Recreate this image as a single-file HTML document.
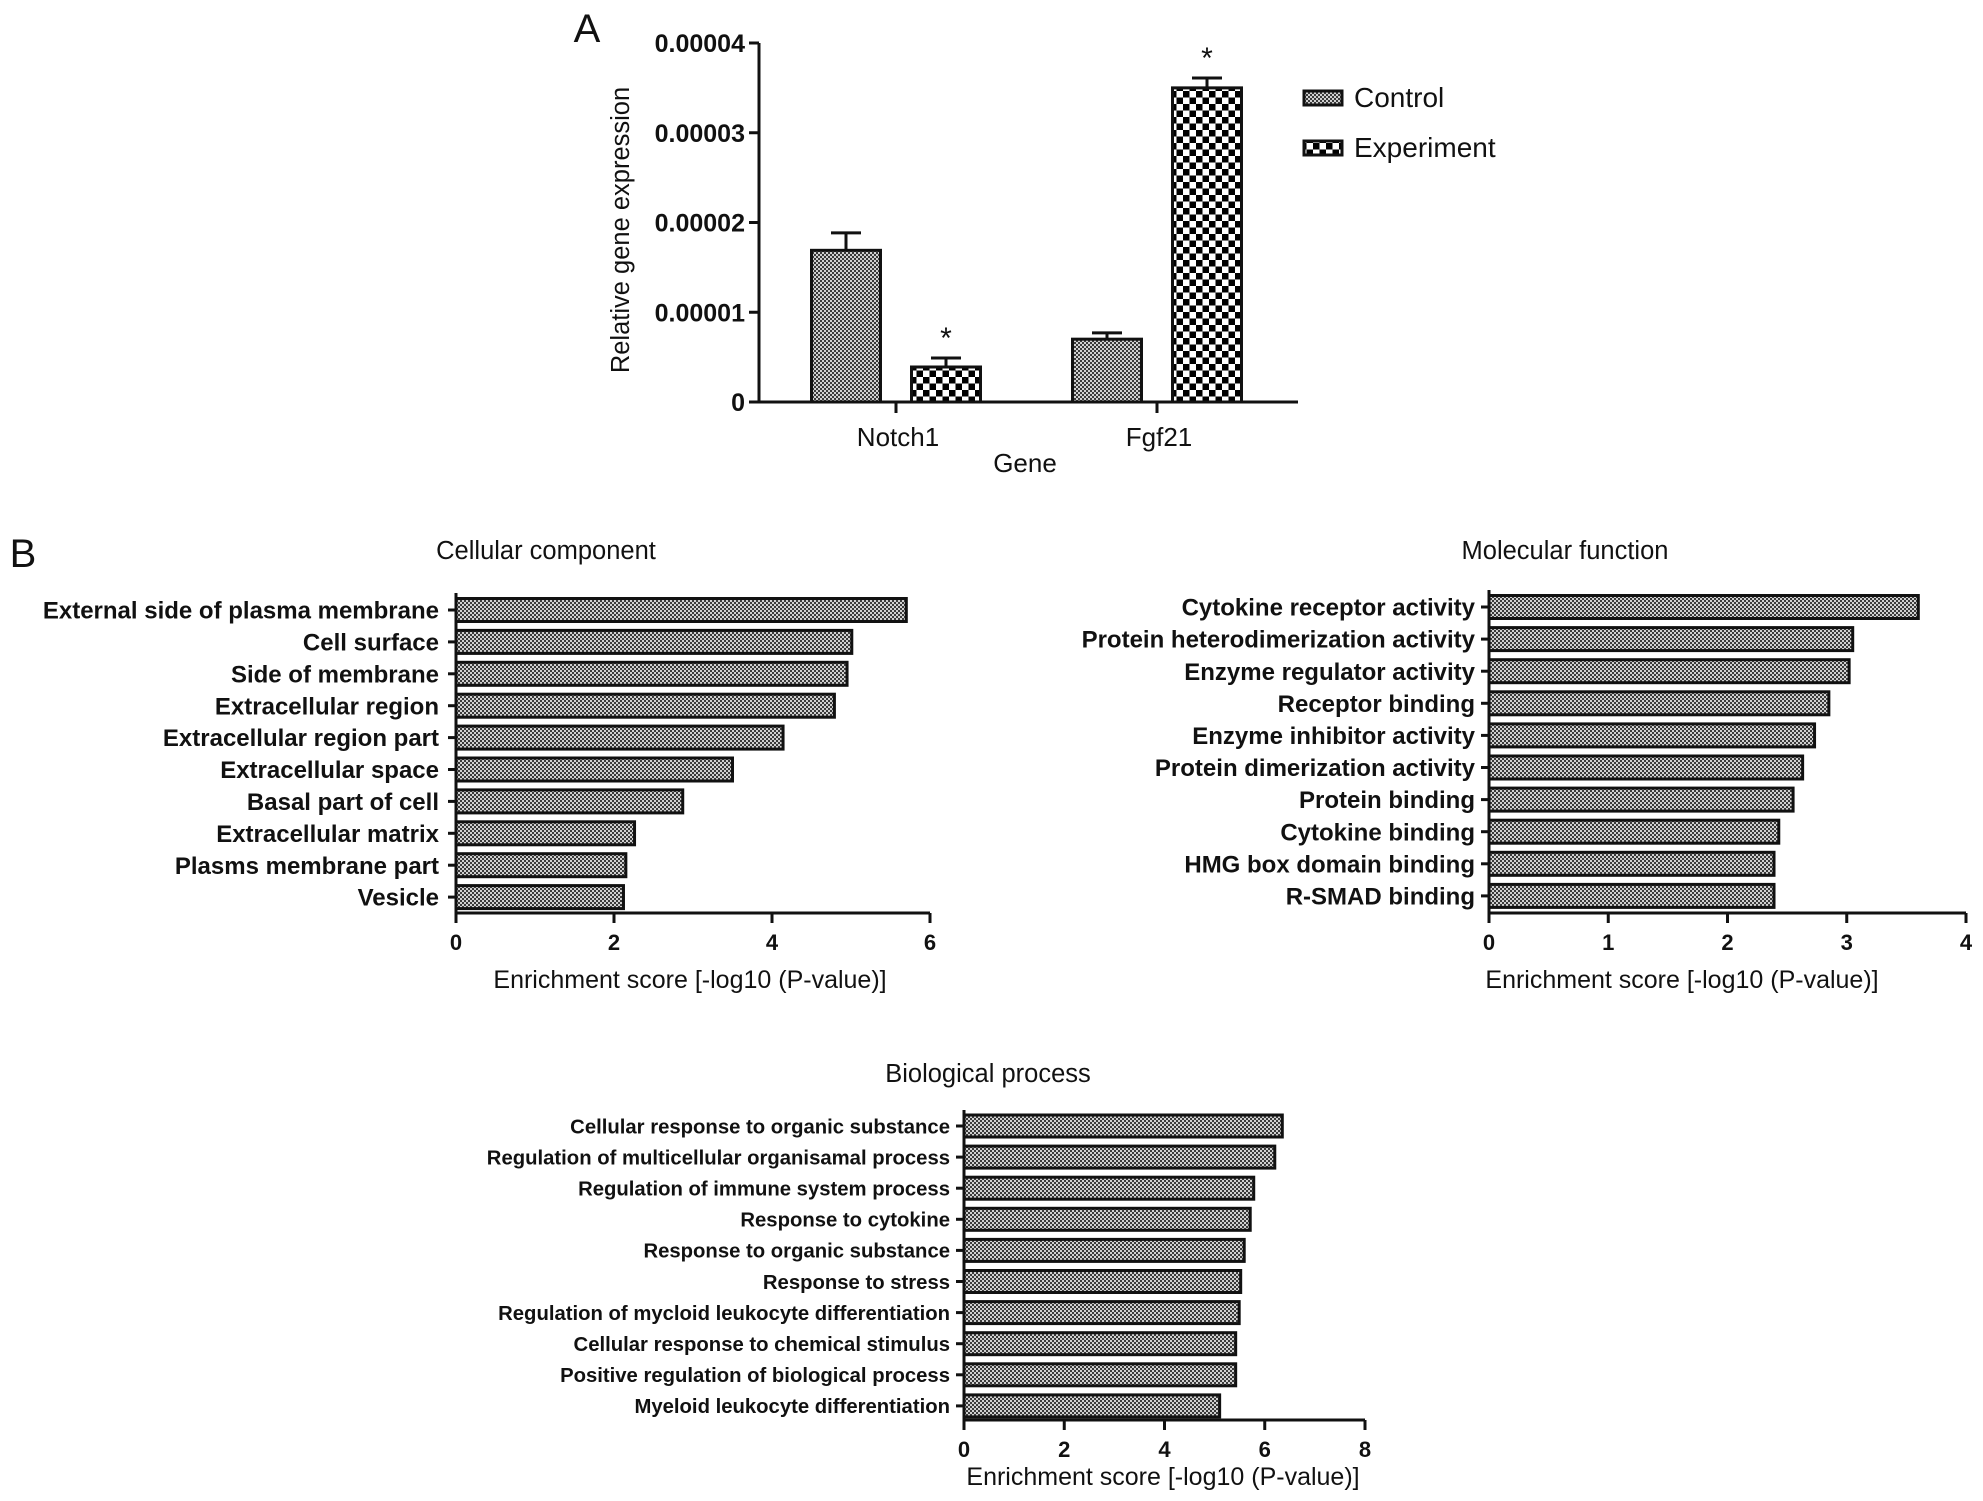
<!DOCTYPE html>
<html><head><meta charset="utf-8"><style>
html,body{margin:0;padding:0;background:#fff}
svg{display:block}
text{font-family:"Liberation Sans",Arial,sans-serif;fill:#111}
.b{font-weight:bold}
</style></head><body>
<svg id="fig" width="1983" height="1501" viewBox="0 0 1983 1501" xmlns="http://www.w3.org/2000/svg">
<defs>
<pattern id="fine" width="4" height="4" patternUnits="userSpaceOnUse"><rect width="4" height="4" fill="#d0d0d0"/><rect width="2" height="2" fill="#3a3a3a"/><rect x="2" y="2" width="2" height="2" fill="#3a3a3a"/></pattern>
<pattern id="check" width="13" height="13" patternUnits="userSpaceOnUse"><rect width="13" height="13" fill="#fff"/><rect width="6.5" height="6.5" fill="#000"/><rect x="6.5" y="6.5" width="6.5" height="6.5" fill="#000"/></pattern>
</defs>
<g id="pa"></g>
<g id="cc"></g>
<g id="mf"></g>
<g id="bp"></g>
</svg>
<script>
// Panel A data
const aGenes = ["Notch1", "Fgf21"];
const aControl = [1.69e-5, 0.70e-5];
const aControlErr = [0.195e-5, 0.07e-5];
const aExperiment = [0.39e-5, 3.50e-5];
const aExperimentErr = [0.10e-5, 0.11e-5];
const aTicks = [0, 0.00001, 0.00002, 0.00003, 0.00004];
const aTickLabels = ["0", "0.00001", "0.00002", "0.00003", "0.00004"];

// Cellular component
const ccCats = ["External side of plasma membrane","Cell surface","Side of membrane","Extracellular region","Extracellular region part","Extracellular space","Basal part of cell","Extracellular matrix","Plasms membrane part","Vesicle"];
const ccVals = [5.70, 5.01, 4.95, 4.79, 4.14, 3.50, 2.87, 2.26, 2.15, 2.12];
const ccTicks = [0, 2, 4, 6];
// Molecular function
const mfCats = ["Cytokine receptor activity","Protein heterodimerization activity","Enzyme regulator activity","Receptor binding","Enzyme inhibitor activity","Protein dimerization activity","Protein binding","Cytokine binding","HMG box domain binding","R-SMAD binding"];
const mfVals = [3.60, 3.05, 3.02, 2.85, 2.73, 2.63, 2.55, 2.43, 2.39, 2.39];
const mfTicks = [0, 1, 2, 3, 4];
// Biological process
const bpCats = ["Cellular response to organic substance","Regulation of multicellular organisamal process","Regulation of immune system process","Response to cytokine","Response to organic substance","Response to stress","Regulation of mycloid leukocyte differentiation","Cellular response to chemical stimulus","Positive regulation of biological process","Myeloid leukocyte differentiation"];
const bpVals = [6.35, 6.20, 5.78, 5.71, 5.59, 5.52, 5.49, 5.42, 5.42, 5.10];
const bpTicks = [0, 2, 4, 6, 8];

const NS = "http://www.w3.org/2000/svg";
function mk(parent, tag, attrs, txt) {
  const e = document.createElementNS(NS, tag);
  for (const k in attrs) e.setAttribute(k, attrs[k]);
  if (txt !== undefined) e.textContent = txt;
  parent.appendChild(e);
  return e;
}

// ---- Panel A ----
(function(){
  const g = document.getElementById('pa');
  const x0 = 759, x1 = 1298, y0 = 402, yTop = 43, vmax = 0.00004;
  const ys = v => y0 - v / vmax * (y0 - yTop);
  let t = mk(g,'text',{x:587,y:42,'font-size':40,'text-anchor':'middle'},'A');
  
  
  let l = mk(g,'line',{x1:x0,y1:yTop,x2:x0,y2:y0+1,stroke:'#111','stroke-width':3});
  
  
  l = mk(g,'line',{x1:x0-1,y1:y0,x2:x1,y2:y0,stroke:'#111','stroke-width':3});
  
  
  aTicks.forEach((v,i)=>{
    mk(g,'line',{x1:x0-10,y1:ys(v),x2:x0,y2:ys(v),stroke:'#111','stroke-width':3});
    const tl = mk(g,'text',{x:745,y:ys(v)+9,'font-size':25,'text-anchor':'end',class:'b'},aTickLabels[i]);
    
    
  });
  t = mk(g,'text',{x:0,y:0,'font-size':25.5,'text-anchor':'middle',fill:'#222',transform:'translate(629,230) rotate(-90)'},'Relative gene expression');
  
  
  const groupC = [896, 1157];
  const bw = 69, off = 50;
  aGenes.forEach((gn,i)=>{
    const cx = groupC[i];
    mk(g,'line',{x1:cx,y1:y0,x2:cx,y2:y0+11,stroke:'#111','stroke-width':3});
    const lab = mk(g,'text',{x:cx+2,y:446,'font-size':26,'text-anchor':'middle'},gn);
    
    
    [[aControl,aControlErr,'url(#fine)',-off,'control'],[aExperiment,aExperimentErr,'url(#check)',off,'experiment']].forEach(([vals,errs,fill,dx,nm])=>{
      const bx = cx + dx - bw/2, top = ys(vals[i]);
      const et = ys(vals[i]+errs[i]);
      mk(g,'line',{x1:cx+dx,y1:top,x2:cx+dx,y2:et,stroke:'#111','stroke-width':3});
      mk(g,'line',{x1:cx+dx-15,y1:et,x2:cx+dx+15,y2:et,stroke:'#111','stroke-width':3});
      const r = mk(g,'rect',{x:bx,y:top,width:bw,height:y0-top,fill:fill,stroke:'#111','stroke-width':3});
      
      
      if (nm==='experiment') {
        const s = mk(g,'text',{x:cx+dx,y:et-10,'font-size':30,'text-anchor':'middle'},'*');
        
        
      }
    });
  });
  t = mk(g,'text',{x:1025,y:472,'font-size':26,'text-anchor':'middle'},'Gene');
  
  
  [['Control','url(#fine)',98],['Experiment','url(#check)',148]].forEach(([nm,f,y])=>{
    const lg = mk(g,'g',{});
    
    
    mk(lg,'rect',{x:1304,y:y-7,width:38,height:14,fill:f,stroke:'#111','stroke-width':3});
    mk(lg,'text',{x:1354,y:y+9,'font-size':28},nm);
  });
})();

// ---- Horizontal bar charts ----
function hchart(id, cats, vals, ticks, o) {
  const g = document.getElementById(id);
  const xs = v => o.ax + v / ticks[ticks.length-1] * (o.axEnd - o.ax);
  let t = mk(g,'text',{x:o.titleX,y:o.titleY,'font-size':25.5,'text-anchor':'middle',fill:'#222'},o.title);
  
  
  mk(g,'line',{x1:o.ax,y1:o.top,x2:o.ax,y2:o.ay+1,stroke:'#111','stroke-width':3});
  mk(g,'line',{x1:o.ax-1,y1:o.ay,x2:o.axEnd,y2:o.ay,stroke:'#111','stroke-width':3});
  ticks.forEach(v=>{
    mk(g,'line',{x1:xs(v),y1:o.ay,x2:xs(v),y2:o.ay+10,stroke:'#111','stroke-width':3});
    const tl = mk(g,'text',{x:xs(v),y:o.ay+37,'font-size':22,'text-anchor':'middle',class:'b'},String(v));
    
    
  });
  cats.forEach((c,i)=>{
    const cy = o.y0 + i*o.step;
    mk(g,'line',{x1:o.ax-8,y1:cy,x2:o.ax,y2:cy,stroke:'#111','stroke-width':3});
    const lab = mk(g,'text',{x:o.labX,y:cy+o.fs*0.36,'font-size':o.fs,'text-anchor':'end',class:'b'},c);
    
    
    const r = mk(g,'rect',{x:o.ax,y:cy-o.bh/2,width:xs(vals[i])-o.ax,height:o.bh,fill:'url(#fine)',stroke:'#111','stroke-width':3});
    
    
  });
  t = mk(g,'text',{x:o.axTitleX,y:o.axTitleY,'font-size':25,'text-anchor':'middle',fill:'#222'},'Enrichment score [-log10 (P-value)]');
  
  
}
(function(){
  const t = mk(document.getElementById('cc'),'text',{x:23,y:567,'font-size':40,'text-anchor':'middle'},'B');
  
  
})();
hchart('cc', ccCats, ccVals, ccTicks, {title:'Cellular component',titleX:546,titleY:559,ax:456,axEnd:930,ay:913,top:593,y0:610,step:31.9,bh:23,labX:439,fs:24,axTitleX:690,axTitleY:988});
hchart('mf', mfCats, mfVals, mfTicks, {title:'Molecular function',titleX:1565,titleY:559,ax:1489,axEnd:1966,ay:913,top:590,y0:607,step:32.1,bh:23,labX:1475,fs:24,axTitleX:1682,axTitleY:988});
hchart('bp', bpCats, bpVals, bpTicks, {title:'Biological process',titleX:988,titleY:1082,ax:964,axEnd:1365,ay:1420,top:1110,y0:1126,step:31.1,bh:22,labX:950,fs:20.3,axTitleX:1163,axTitleY:1485});
</script>
</body></html>
